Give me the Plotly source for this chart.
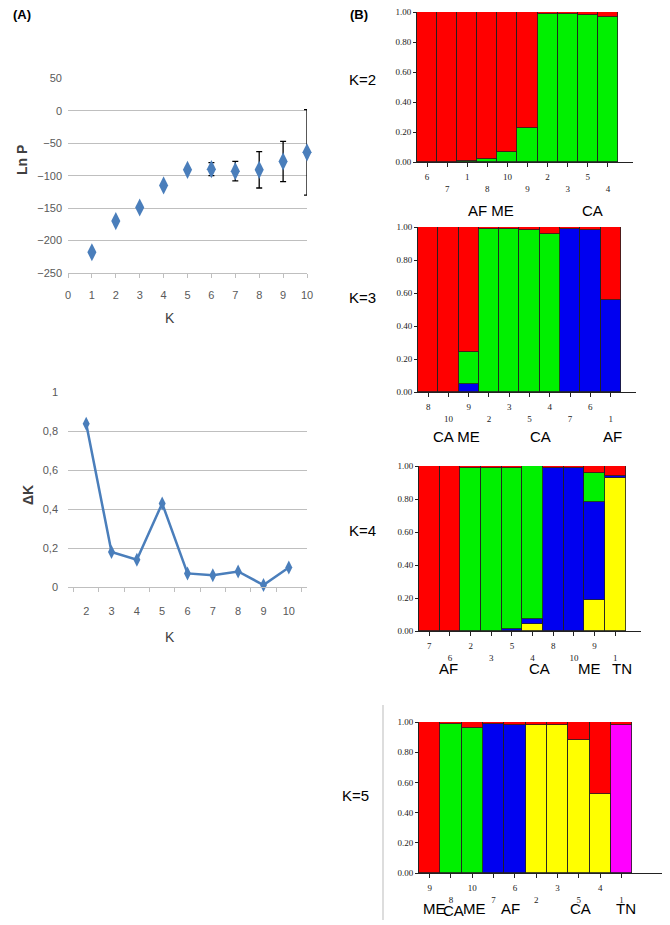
import plotly.graph_objects as go

# page body keeps an 8px margin, so the figure is drawn 8px in from the window corner
OFF = 8
W, H = 670 - OFF, 925 - OFF

# ---------------- data ----------------
K_all = [1, 2, 3, 4, 5, 6, 7, 8, 9, 10]
lnP = [-218, -170, -149, -115, -91, -90, -93, -91, -78, -64]
lnP_err = [0, 0, 0, 0, 0, 10, 15, 28, 31, 66]

K_delta = ["2", "3", "4", "5", "6", "7", "8", "9", "10"]
deltaK = [0.84, 0.18, 0.14, 0.43, 0.07, 0.06, 0.08, 0.01, 0.10]

K2_labels = ["6", "7", "1", "8", "10", "9", "2", "3", "5", "4"]
K2_green = [0, 0, 0.005, 0.02, 0.07, 0.23, 0.99, 0.99, 0.98, 0.97]
K2_red = [1, 1, 0.995, 0.98, 0.93, 0.77, 0.01, 0.01, 0.02, 0.03]

K3_labels = ["8", "10", "9", "2", "3", "5", "4", "7", "6", "1"]
K3_blue = [0, 0, 0.05, 0, 0, 0, 0, 0.99, 0.98, 0.56]
K3_green = [0, 0, 0.19, 0.99, 0.99, 0.98, 0.96, 0, 0, 0]
K3_red = [1, 1, 0.76, 0.01, 0.01, 0.02, 0.04, 0.01, 0.02, 0.44]

K4_labels = ["7", "6", "2", "3", "5", "4", "8", "10", "9", "1"]
K4_yellow = [0, 0, 0, 0, 0, 0.04, 0, 0, 0.19, 0.93]
K4_blue = [0, 0, 0, 0, 0.01, 0.03, 0.99, 0.99, 0.59, 0.01]
K4_green = [0, 0, 0.99, 0.99, 0.98, 0.93, 0, 0, 0.18, 0]
K4_red = [1, 1, 0.01, 0.01, 0.01, 0, 0.01, 0.01, 0.04, 0.06]

K5_labels = ["9", "8", "10", "7", "6", "2", "3", "5", "4", "1"]
K5_yellow = [0, 0, 0, 0, 0, 0.98, 0.98, 0.88, 0.52, 0]
K5_magenta = [0, 0, 0, 0, 0, 0, 0, 0, 0, 0.98]
K5_blue = [0, 0, 0, 0.99, 0.98, 0, 0, 0, 0, 0]
K5_green = [0, 0.99, 0.96, 0, 0, 0, 0, 0, 0, 0]
K5_red = [1, 0.01, 0.04, 0.01, 0.02, 0.02, 0.02, 0.12, 0.48, 0.02]

COL = {"red": "#FF0000", "green": "#00F000", "blue": "#0000F0",
       "yellow": "#FFFF00", "magenta": "#FF00FF"}

def fx(p):
    return (p - OFF) / W

def fy(p):
    return 1 - (p - OFF) / H

def px_x(a, b):
    return [fx(a), fx(b)]

def px_y(top, bottom):
    return [fy(bottom), fy(top)]

fig = go.Figure()

# ---------------- panel A: Ln P ----------------
fig.add_trace(go.Scatter(
    x=K_all, y=lnP, mode="markers", xaxis="x", yaxis="y", cliponaxis=False,
    marker=dict(symbol="diamond-tall", size=13, color="#4A7EBB"),
    error_y=dict(type="data", array=lnP_err, color="black", thickness=1.3, width=3),
    showlegend=False))

# ---------------- panel A: delta K ----------------
fig.add_trace(go.Scatter(
    x=K_delta, y=deltaK, mode="lines+markers", xaxis="x2", yaxis="y2", cliponaxis=False,
    line=dict(color="#4A7EBB", width=2.5),
    marker=dict(symbol="diamond-tall", size=10, color="#4A7EBB"),
    showlegend=False))

# ---------------- panel B ----------------
panels = [
    ("3", K2_labels, [("green", K2_green), ("red", K2_red)]),
    ("4", K3_labels, [("blue", K3_blue), ("green", K3_green), ("red", K3_red)]),
    ("5", K4_labels, [("yellow", K4_yellow), ("blue", K4_blue), ("green", K4_green), ("red", K4_red)]),
    ("6", K5_labels, [("yellow", K5_yellow), ("magenta", K5_magenta), ("blue", K5_blue),
                      ("green", K5_green), ("red", K5_red)]),
]
for ax, labels, series in panels:
    xs = list(range(len(labels)))
    for cname, vals in series:
        fig.add_trace(go.Bar(
            x=xs, y=vals, xaxis="x" + ax, yaxis="y" + ax,
            marker=dict(color=COL[cname], line=dict(color="#222222", width=0.8)),
            width=1.0, showlegend=False))

gray_tick = dict(family="Liberation Sans Narrow, Arial Narrow, Liberation Sans, Arial", size=11, color="#595959")

layout = dict(
    width=W, height=H, margin=dict(l=0, r=0, t=0, b=0, autoexpand=False),
    paper_bgcolor="white", plot_bgcolor="white",
    barmode="stack", bargap=0,
    separators=",.",
    xaxis=dict(domain=px_x(68, 307), anchor="y", range=[0, 10], dtick=1, tick0=0,
               automargin=False, ticklabeloverflow="allow",
               showgrid=False, zeroline=False, showline=True, linecolor="#BFBFBF",
               ticks="outside", ticklen=4, tickcolor="#BFBFBF", tickfont=gray_tick,
               ticklabelstandoff=8),
    yaxis=dict(domain=px_y(78, 273), anchor="x", range=[-250, 50.6], dtick=50, tick0=0,
               automargin=False, ticklabeloverflow="allow",
               showgrid=True, gridcolor="#BFBFBF", zeroline=False, showline=False,
               tickfont=gray_tick, ticks="", ticklabelstandoff=5),
    xaxis2=dict(domain=px_x(68, 307), anchor="y2", type="category", showgrid=False, zeroline=False,
                automargin=False, ticklabeloverflow="allow",
                showline=True, linecolor="#BFBFBF", ticks="outside", ticklen=4,
                tickcolor="#BFBFBF", tickson="boundaries", tickfont=gray_tick,
                ticklabelstandoff=14),
    yaxis2=dict(domain=px_y(392, 587), anchor="x2", range=[0, 1.003], dtick=0.2, tick0=0,
                automargin=False, ticklabeloverflow="allow",
                showgrid=True, gridcolor="#BFBFBF", zeroline=False, showline=False,
                tickfont=gray_tick, ticks="", ticklabelstandoff=9),
)

bar_dom = {
    "3": (417, 633, 12, 162, [-0.5, 10.25]),
    "4": (418, 636, 227, 392, [-0.5, 10.25]),
    "5": (419, 641, 466, 631, [-0.5, 10.25]),
    "6": (419, 662, 722, 873, [-0.5, 10.9]),
}
small = dict(family="Liberation Serif, Times New Roman, serif", size=9, color="#222222")
for ax, labels, _ in panels:
    x0, x1, yt, yb, rng = bar_dom[ax]
    ttext = [lab if i % 2 == 0 else "<br>" + lab for i, lab in enumerate(labels)]
    layout["xaxis" + ax] = dict(
        domain=px_x(x0, x1), anchor="y" + ax, range=rng, automargin=False,
        ticklabeloverflow="allow",
        tickvals=list(range(len(labels))), ticktext=ttext,
        showgrid=False, zeroline=False, showline=True, linecolor="#222222", linewidth=1,
        ticks="outside", ticklen=4, tickcolor="#222222", tickfont=small,
        ticklabelstandoff=2)
    layout["yaxis" + ax] = dict(
        domain=px_y(yt, yb), anchor="x" + ax, range=[0, 1], automargin=False,
        ticklabeloverflow="allow",
        tickvals=[0, 0.2, 0.4, 0.6, 0.8, 1.0],
        ticktext=["0.00", "0.20", "0.40", "0.60", "0.80", "1.00"],
        showgrid=False, zeroline=False, showline=True, linecolor="#222222", linewidth=1,
        ticks="outside", ticklen=3, tickcolor="#222222", tickfont=small)

fig.update_layout(**layout)

sans = "Liberation Sans, Arial, sans-serif"

def ann(text, x, y, size=13, bold=False, angle=0, color="black"):
    fig.add_annotation(
        text=("<b>%s</b>" % text) if bold else text, x=fx(x), y=fy(y),
        xref="paper", yref="paper", showarrow=False, textangle=angle,
        xanchor="center", yanchor="middle",
        font=dict(family=sans, size=size, color=color))

ann("(A)", 22, 14, 13, bold=True)
ann("(B)", 359, 14, 13, bold=True)
ann("Ln P", 22, 160, 14, bold=True, angle=-90, color="#404040")
ann("K", 170, 318, 14, color="#404040")
ann("ΔK", 28, 495, 14, bold=True, angle=-90, color="#404040")
ann("K", 170, 637, 14, color="#404040")

ann("K=2", 362, 80, 15)
ann("K=3", 362, 298, 15)
ann("K=4", 362, 530, 15)
ann("K=5", 356, 795, 15)

ann("AF ME", 491, 210, 15)
ann("CA", 592, 210, 15)
ann("CA ME", 456, 436, 15)
ann("CA", 540, 436, 15)
ann("AF", 612, 436, 15)
ann("AF", 449, 668, 15)
ann("CA", 539, 668, 15)
ann("ME", 589, 668, 15)
ann("TN", 622, 668, 15)
ann("ME", 434, 908, 15)
ann("CA", 453, 910, 15)
ann("ME", 474, 908, 15)
ann("AF", 511, 908, 15)
ann("CA", 580, 908, 15)
ann("TN", 626, 908, 15)

fig.add_shape(type="line", xref="paper", yref="paper",
              x0=fx(383), x1=fx(383), y0=fy(920), y1=fy(705),
              line=dict(color="#BBBBBB", width=1))

fig.write_html("out.html")
